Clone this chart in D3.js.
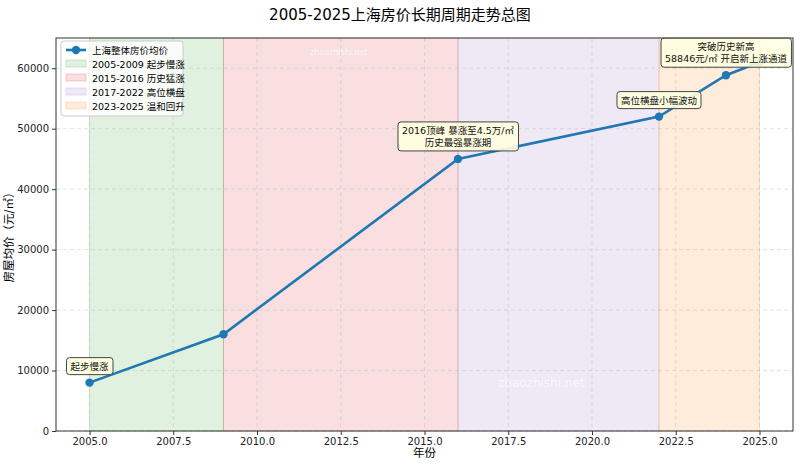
<!DOCTYPE html>
<html lang="zh">
<head>
<meta charset="utf-8" />
<title>2005-2025上海房价长期周期走势总图</title>
<script src="https://cdn.jsdelivr.net/npm/d3@7"></script>
<style>
  body { margin: 0; background: #fff; }
  svg text { font-family: "DejaVu Sans", "Noto Sans CJK SC", sans-serif; }
</style>
</head>
<body>
<div id="chart"></div>
<script>
// data
const years = [2005, 2009, 2016, 2022, 2024, 2025];
const prices = [8000, 16000, 45000, 52000, 58846, 61000];

const phaseLabels = ["2005-2009 起步慢涨", "2015-2016 历史猛涨", "2017-2022 高位横盘", "2023-2025 温和回升"];
const phaseStart = [2005, 2009, 2016, 2022];
const phaseEnd = [2009, 2016, 2022, 2025];
const phaseColors = ["#2ca02c", "#d62728", "#9467bd", "#ff7f0e"];

const noteYears = [2005, 2016, 2022, 2024];
const noteTexts = [
  ["起步慢涨"],
  ["2016顶峰 暴涨至4.5万/㎡", "历史最强暴涨期"],
  ["高位横盘小幅波动"],
  ["突破历史新高", "58846元/㎡ 开启新上涨通道"]
];

const xTicks = [2005, 2007.5, 2010, 2012.5, 2015, 2017.5, 2020, 2022.5, 2025];
const yTicks = [0, 10000, 20000, 30000, 40000, 50000, 60000];

const W = 800, H = 467;
const margin = { top: 38, right: 7, bottom: 36, left: 56 };
const iw = W - margin.left - margin.right;
const ih = H - margin.top - margin.bottom;

const svg = d3.select("#chart").append("svg").attr("width", W).attr("height", H);

svg.append("text")
  .attr("x", W / 2).attr("y", 20)
  .attr("text-anchor", "middle")
  .attr("font-size", "15px")
  .text("2005-2025上海房价长期周期走势总图");

const g = svg.append("g").attr("transform", `translate(${margin.left},${margin.top})`);

const x = d3.scaleLinear().domain([2004, 2026]).range([0, iw]);
const y = d3.scaleLinear().domain([0, 65000]).range([ih, 0]);

// phase spans
phaseStart.forEach((s, i) => {
  g.append("rect")
    .attr("x", x(s)).attr("y", 0)
    .attr("width", x(phaseEnd[i]) - x(s)).attr("height", ih)
    .attr("fill", phaseColors[i]).attr("fill-opacity", 0.15)
    .attr("stroke", phaseColors[i]).attr("stroke-opacity", 0.2);
});

// grid
g.append("g").selectAll("line").data(xTicks).join("line")
  .attr("x1", d => x(d)).attr("x2", d => x(d)).attr("y1", 0).attr("y2", ih)
  .attr("stroke", "#b0b0b0").attr("stroke-opacity", 0.35).attr("stroke-dasharray", "4,3");
g.append("g").selectAll("line").data(yTicks).join("line")
  .attr("x1", 0).attr("x2", iw).attr("y1", d => y(d)).attr("y2", d => y(d))
  .attr("stroke", "#b0b0b0").attr("stroke-opacity", 0.35).attr("stroke-dasharray", "4,3");

// watermarks
g.append("text").attr("x", 254).attr("y", 17).attr("font-size", "8px")
  .attr("fill", "#fff").attr("fill-opacity", 0.7).text("zhaozhishi.net");
g.append("text").attr("x", 442).attr("y", 349).attr("font-size", "12px")
  .attr("fill", "#fff").attr("fill-opacity", 0.7).text("zhaozhishi.net");

// line + markers
const line = d3.line().x((d, i) => x(years[i])).y(d => y(d));
g.append("path").datum(prices)
  .attr("d", line).attr("fill", "none")
  .attr("stroke", "#1f77b4").attr("stroke-width", 2.6);
g.append("g").selectAll("circle").data(prices).join("circle")
  .attr("cx", (d, i) => x(years[i])).attr("cy", d => y(d)).attr("r", 4.2)
  .attr("fill", "#1f77b4");

// axes
const xAxis = g.append("g").attr("transform", `translate(0,${ih})`)
  .call(d3.axisBottom(x).tickValues(xTicks).tickFormat(d3.format(".1f")).tickSize(4).tickSizeOuter(0));
const yAxis = g.append("g")
  .call(d3.axisLeft(y).tickValues(yTicks).tickFormat(d3.format("d")).tickSize(4).tickSizeOuter(0));
[xAxis, yAxis].forEach(a => {
  a.select(".domain").remove();
  a.selectAll("text").attr("font-size", "10px").attr("fill", "#222");
  a.selectAll("line").attr("stroke", "#333");
});
g.append("rect").attr("width", iw).attr("height", ih)
  .attr("fill", "none").attr("stroke", "#333").attr("stroke-width", 1);

svg.append("text").attr("x", margin.left + iw / 2).attr("y", 457)
  .attr("text-anchor", "middle").attr("font-size", "11.5px").text("年份");
svg.append("text")
  .attr("transform", `translate(13,${margin.top + ih / 2}) rotate(-90)`)
  .attr("text-anchor", "middle").attr("font-size", "11.5px").text("房屋均价（元/㎡）");

// annotations
noteYears.forEach((yr, i) => {
  const px = x(yr), py = y(prices[years.indexOf(yr)]);
  const lines = noteTexts[i];
  const lh = 12;
  const boxH = lines.length * lh + 5;
  const cy = py - 8 - boxH / 2;
  const ng = g.append("g");
  const t = ng.append("text").attr("text-anchor", "middle").attr("font-size", "9.5px").attr("fill", "#111");
  lines.forEach((s, j) => {
    t.append("tspan").attr("x", px)
      .attr("y", cy - (lines.length - 1) * lh / 2 + j * lh + 3.5).text(s);
  });
  const bb = t.node().getBBox();
  ng.insert("rect", "text")
    .attr("x", bb.x - 4).attr("y", cy - boxH / 2)
    .attr("width", bb.width + 8).attr("height", boxH)
    .attr("rx", 3)
    .attr("fill", "#ffffe0").attr("fill-opacity", 0.9)
    .attr("stroke", "#444").attr("stroke-width", 1);
});

// legend
const lg = g.append("g").attr("transform", "translate(5,3)");
lg.append("rect").attr("width", 122).attr("height", 75).attr("rx", 3)
  .attr("fill", "#fff").attr("fill-opacity", 0.8).attr("stroke", "#ccc");
lg.append("line").attr("x1", 5).attr("x2", 25).attr("y1", 9).attr("y2", 9)
  .attr("stroke", "#1f77b4").attr("stroke-width", 2.6);
lg.append("circle").attr("cx", 15).attr("cy", 9).attr("r", 4.2).attr("fill", "#1f77b4");
lg.append("text").attr("x", 31).attr("y", 12.5).attr("font-size", "9.5px").text("上海整体房价均价");
phaseLabels.forEach((s, i) => {
  const yy = 23 + i * 14;
  lg.append("rect").attr("x", 5).attr("y", yy - 4).attr("width", 20).attr("height", 7)
    .attr("fill", phaseColors[i]).attr("fill-opacity", 0.15)
    .attr("stroke", phaseColors[i]).attr("stroke-opacity", 0.2);
  lg.append("text").attr("x", 31).attr("y", yy + 3.5).attr("font-size", "9.5px").text(s);
});
</script>
</body>
</html>
